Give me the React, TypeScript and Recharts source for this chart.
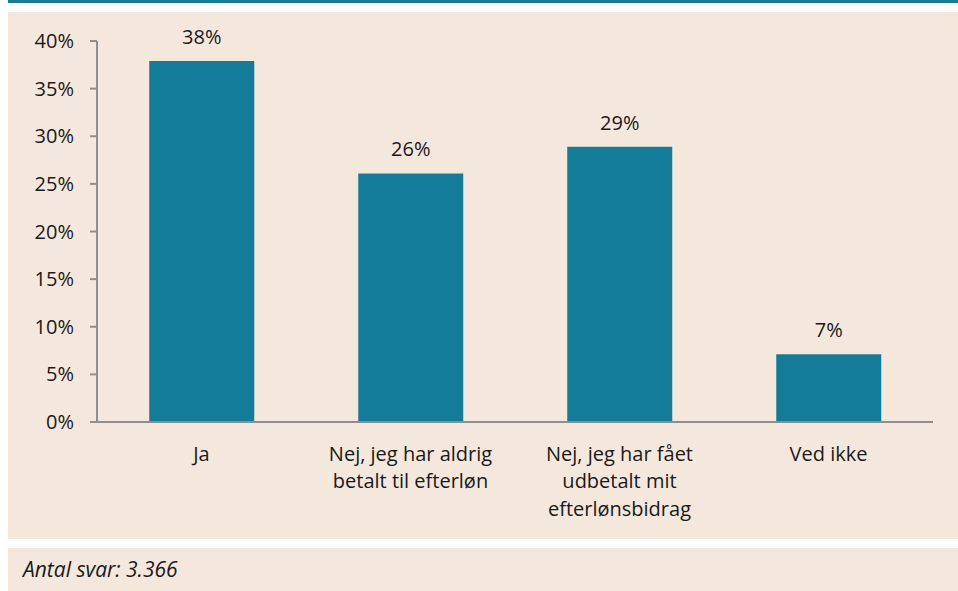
import React from "react";
import { BarChart, Bar, XAxis, YAxis, LabelList } from "recharts";

const categories = [
  "Ja",
  "Nej, jeg har aldrig\nbetalt til efterløn",
  "Nej, jeg har fået\nudbetalt mit\nefterlønsbidrag",
  "Ved ikke",
];
const shares = [0.379, 0.261, 0.289, 0.071];
const valueLabels = ["38%", "26%", "29%", "7%"];
const yTicks = [0, 0.05, 0.1, 0.15, 0.2, 0.25, 0.3, 0.35, 0.4];
const boundaryTicks = [0, 1, 2, 3, 4];
const footerText = "Antal svar: 3.366";

const data = categories.map((c, i) => ({
  name: c,
  value: shares[i],
  label: valueLabels[i],
}));

const FONT = "'Open Sans', 'Noto Sans', sans-serif";
const TEAL = "#137d99";
const BG = "#f4e8dc";
const AXIS = "#8e8e8e";
const TEXT = "#1a1a1a";
const FS = 20;

const CategoryTick = (props: any) => {
  const { x, y, payload } = props;
  const lines = String(payload.value).split("\n");
  return (
    <text
      x={x}
      y={y}
      textAnchor="middle"
      fill={TEXT}
      fontSize={FS}
      fontFamily={FONT}
    >
      {lines.map((l: string, i: number) => (
        <tspan key={i} x={x} dy={i === 0 ? 29.5 : 27.5}>
          {l}
        </tspan>
      ))}
    </text>
  );
};

export default function App() {
  return (
    <div
      style={{
        position: "absolute",
        left: 0,
        top: 0,
        width: 958,
        height: 591,
        background: "#ffffff",
        fontFamily: FONT,
      }}
    >
      <div
        style={{
          position: "absolute",
          left: 8,
          top: 0,
          width: 950,
          height: 3,
          background: TEAL,
        }}
      />
      <div
        style={{
          position: "absolute",
          left: 8,
          top: 12,
          width: 950,
          height: 527,
          background: BG,
        }}
      >
        <BarChart
          width={950}
          height={527}
          data={data}
          margin={{ top: 29, right: 25, bottom: 0, left: 0 }}
          barCategoryGap="25%"
        >
          <XAxis
            xAxisId="bounds"
            type="number"
            domain={[0, 4]}
            ticks={boundaryTicks}
            tick={false}
            height={1}
            axisLine={{ stroke: AXIS, strokeWidth: 2 }}
            tickLine={{ stroke: AXIS, strokeWidth: 2 }}
            tickSize={7}
            allowDataOverflow
          />
          <XAxis
            xAxisId="cat"
            dataKey="name"
            type="category"
            axisLine={false}
            tickLine={false}
            tick={<CategoryTick />}
            interval={0}
            height={116}
          />
          <YAxis
            domain={[0, 0.4]}
            ticks={yTicks}
            width={89}
            tickFormatter={(v: number) => `${Math.round(v * 100)}%`}
            axisLine={{ stroke: AXIS, strokeWidth: 2 }}
            tickLine={{ stroke: AXIS, strokeWidth: 2 }}
            tickSize={7}
            tickMargin={16}
            tick={{ fill: TEXT, fontSize: FS, fontFamily: FONT }}
            interval={0}
          />
          <Bar
            dataKey="value"
            xAxisId="cat"
            fill={TEAL}
            isAnimationActive={false}
          >
            <LabelList
              dataKey="label"
              position="top"
              offset={17}
              fill={TEXT}
              fontSize={FS}
              fontFamily={FONT}
            />
          </Bar>
        </BarChart>
      </div>
      <div
        style={{
          position: "absolute",
          left: 8,
          top: 548,
          width: 950,
          height: 43,
          background: BG,
        }}
      >
        <div
          style={{
            position: "absolute",
            left: 15,
            top: 8,
            fontStyle: "italic",
            fontSize: 21,
            color: TEXT,
            fontFamily: FONT,
            lineHeight: "26px",
            whiteSpace: "nowrap",
          }}
        >
          {footerText}
        </div>
      </div>
    </div>
  );
}
